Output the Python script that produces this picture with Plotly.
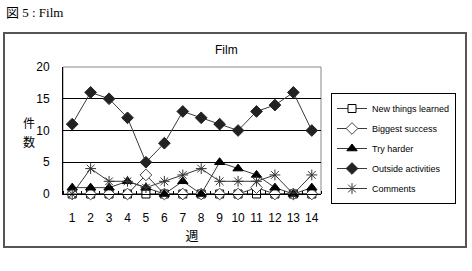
import plotly.graph_objects as go

weeks = list(range(1, 15))
week_labels = [str(w) for w in weeks]
new_things = [0, 0, 0, 0, 0, 0, 0, 0, 0, 0, 0, 0, 0, 0]
biggest_success = [0, 0, 0, 0, 3, 0, 0, 0, 0, 0, 1, 0, 0, 0]
try_harder = [1, 1, 1, 2, 1, 0, 2, 0, 5, 4, 3, 1, 0, 1]
outside = [11, 16, 15, 12, 5, 8, 13, 12, 11, 10, 13, 14, 16, 10]
comments = [0, 4, 2, 2, 1, 2, 3, 4, 2, 2, 2, 3, 0, 3]

FONT = "Liberation Sans, Noto Sans CJK JP, sans-serif"
LC = "#3a3a3a"

fig = go.Figure()
series = [
    ("New things learned", new_things, dict(symbol="square", size=8, color="white", line=dict(color="black", width=1))),
    ("Biggest success", biggest_success, dict(symbol="diamond", size=9, color="white", line=dict(color="#444", width=1))),
    ("Try harder", try_harder, dict(symbol="triangle-up", size=9, color="black", line=dict(color="black", width=1))),
    ("Outside activities", outside, dict(symbol="diamond", size=9, color="#222", line=dict(color="#222", width=1))),
    ("Comments", comments, dict(symbol="asterisk-open", size=9, color="#333", line=dict(color="#333", width=1))),
]
for name, vals, mk in series:
    fig.add_trace(go.Scatter(x=weeks, y=vals, name=name, legendgroup=name, mode="lines+markers",
                             line=dict(color=LC, width=1), marker=mk, cliponaxis=False))

W, H = 472, 271
L, R, T, B = 63, 321, 67, 194
pw, ph = R - L, B - T

def px(x):
    return (x - L) / pw

def py(y):
    return (B - y) / ph

fig.update_layout(
    width=W, height=H,
    margin=dict(l=L, r=W - R, t=T, b=H - B),
    paper_bgcolor="white", plot_bgcolor="white",
    font=dict(family=FONT, size=11, color="black"),
    showlegend=True,
    legend=dict(x=px(331), y=py(93), xanchor="left", yanchor="top",
                bordercolor="black", borderwidth=1, bgcolor="white",
                font=dict(size=9, family=FONT), tracegroupgap=1,
                itemwidth=30),
    xaxis=dict(range=[0.5, 14.5], tickmode="array", tickvals=weeks, ticktext=week_labels,
               showgrid=False, zeroline=False, showline=True, linecolor="black", linewidth=1,
               ticks="", tickfont=dict(size=12), ticklabelstandoff=13,
               minor=dict(tick0=0.5, dtick=1, ticks="inside", ticklen=3, tickcolor="black"),
               title=dict(text="週", font=dict(size=13, family="Noto Sans CJK JP"), standoff=0)),
    yaxis=dict(range=[0, 20], tickmode="array", tickvals=[0, 5, 10, 15, 20],
               showgrid=True, gridcolor="black", gridwidth=1, zeroline=False,
               showline=True, linecolor="black", linewidth=1, ticks="",
               tickfont=dict(size=12), ticklabelstandoff=10),
)

# plot area border (top/right gray)
fig.add_shape(type="rect", xref="paper", yref="paper", x0=0, x1=1, y0=0, y1=1,
              line=dict(color="#888", width=1), layer="below")
# outer chart box
fig.add_shape(type="rect", xref="paper", yref="paper",
              x0=px(4), x1=px(466), y0=py(247), y1=py(33),
              line=dict(color="#555", width=2))

fig.add_annotation(text="Film", xref="paper", yref="paper", x=px(240), y=py(50),
                   yanchor="middle", showarrow=False, font=dict(size=12, family=FONT))
fig.add_annotation(text="件", xref="paper", yref="paper", x=px(21), y=py(122),
                   yanchor="middle", showarrow=False, font=dict(size=12, family="Noto Sans CJK JP"))
fig.add_annotation(text="数", xref="paper", yref="paper", x=px(21), y=py(141),
                   yanchor="middle", showarrow=False, font=dict(size=12, family="Noto Sans CJK JP"))
fig.add_annotation(text="図 5 : Film", xref="paper", yref="paper", x=px(4), y=py(12),
                   xanchor="left", yanchor="middle", showarrow=False,
                   font=dict(size=13, family="Liberation Serif, Noto Sans CJK JP, serif"))

fig.write_html("out.html")
